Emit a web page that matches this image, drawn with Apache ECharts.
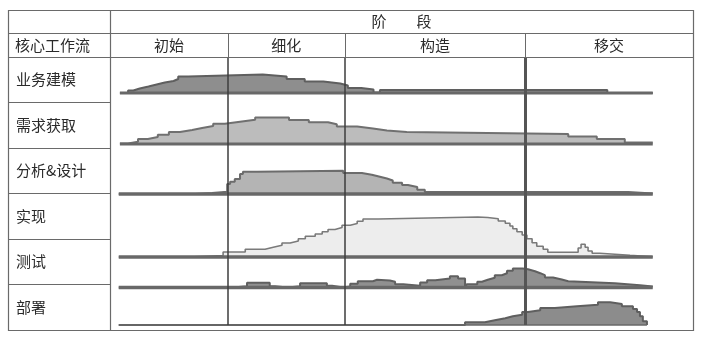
<!DOCTYPE html>
<html><head><meta charset="utf-8">
<script src="https://cdn.jsdelivr.net/npm/echarts@6/dist/echarts.min.js"></script>
<style>html,body{margin:0;padding:0;background:#fff}#c{width:701px;height:339px}</style>
</head><body><div id="c"></div>
<script>
// ---------------- data ----------------
const workflows = ['业务建模', '需求获取', '分析&设计', '实现', '测试', '部署'];
const headerTitle = '阶　　段';
const workflowHeader = '核心工作流';
const phases = ['初始', '细化', '构造', '移交'];
// phase boundaries on the project timeline (0-100 %)
const phaseBounds = [0, 20.2, 40.3, 71.2, 100];

// effort curves: [timeline %, effort level] steps (level holds until next point)
const businessModeling = [[1.7,0],[3.1,2.5],[4.0,4.5],[5.1,6.5],[6.6,8.5],[8.0,10.5],[9.4,12],[10.9,14],[11.7,16.5],[13.4,18.5],[26.2,16.5],[30.3,14],[33.4,11.5],[36.6,9.5],[39.5,7.5],[40.8,5],[43.1,3.5],[45.2,0.5],[46.3,3],[85.3,0],[93.1,0]];
const requirements = [[1.7,0.5],[3.1,2.3],[4.8,5],[6.5,7],[8.2,9.3],[10.1,12],[12.0,14],[14.1,16],[15.8,18],[17.7,20.3],[19.7,22.3],[22.3,24.3],[24.9,26.5],[30.7,24],[34.1,21.7],[37.4,19.7],[38.9,17.5],[42.4,15.5],[45.1,13.5],[47.5,12],[50.9,10],[78.6,7.5],[83.5,5],[88.3,1.5],[93.1,1.5]];
const analysisDesign = [[1.5,0],[14.6,1],[17.5,2.3],[20.1,10],[20.6,12.3],[21.4,15],[22.3,20],[22.8,22.3],[25.2,23.3],[40.0,21],[43.2,19.3],[44.9,17.3],[46.3,15.5],[47.5,13.5],[48.5,11.3],[50.1,9],[51.1,7],[52.7,4.3],[54.0,2],[88.9,0.5],[93.1,0.5]];
const implementation = [[1.5,0],[13.4,1.5],[19.4,5],[23.2,7.7],[26.6,9.7],[28.0,11.7],[29.5,14],[30.9,16],[32.3,18.3],[33.5,20.7],[35.2,23],[36.4,25.3],[37.4,27.5],[38.6,29.5],[39.8,31.7],[41.2,33.5],[42.4,35.7],[43.4,38],[46.0,40],[63.1,39.5],[64.8,38.3],[66.6,36],[67.8,33.7],[68.6,31],[69.1,28.3],[69.8,25.3],[70.7,22],[71.5,18.3],[72.4,14.3],[73.2,10.7],[74.3,7.7],[75.1,4.7],[80.3,9],[80.8,12.7],[81.5,9.7],[82.0,6],[82.7,3.7],[84.0,1.7],[89.2,0.3],[93.1,0.3]];
const testing = [[1.5,0],[21.1,1.3],[23.5,4.7],[27.4,1.3],[28.3,0],[30.5,1.3],[32.6,4.3],[37.2,1.7],[38.1,0],[40.0,1],[41.2,3.7],[42.5,6.3],[45.1,7.7],[45.8,7],[48.0,5.7],[48.9,3.3],[50.3,1.7],[53.2,5],[54.4,7.3],[55.8,9],[58.3,11.3],[59.7,9],[60.9,0],[61.2,3.3],[63.0,5.7],[63.8,7.7],[64.8,9.7],[66.0,12.3],[67.2,14.3],[68.1,16.7],[69.1,19],[70.8,18.3],[71.7,16.3],[72.9,14.3],[73.8,12.3],[74.6,10],[76.0,8],[77.5,6.3],[78.6,4.3],[86.6,2.3],[90.9,1],[93.1,1]];
const deployment = [[1.5,0],[60.9,2.7],[64.3,4.7],[66.0,6.7],[67.8,8.7],[69.1,10.3],[70.7,13],[71.7,14.7],[73.8,17],[76.3,18.7],[80.1,20.3],[83.7,22.7],[85.8,21],[87.8,18.7],[89.7,16],[90.4,13],[90.9,8.7],[91.4,3.7],[92.1,0]];
// baseline extent of each workflow on the timeline
const baselineStart = [1.7, 1.7, 1.5, 1.5, 1.5, 1.5];
const baselineEnd = [93.1, 93.1, 93.1, 93.1, 93.1, 92.1];

// ---------------- layout / style ----------------
const curves = [businessModeling, requirements, analysisDesign, implementation, testing, deployment];
const L = 110, W = 583, TOP = 10, HDR1 = 33, HDR2 = 57, BOT = 330, RIGHT = 693, LEFT = 8;
const baseY = [93, 144, 194, 257, 287.5, 325];
const ROWH = 45;
const fills = ['#8e8e8e', '#bcbcbc', '#b4b4b4', '#ededed', '#909090', '#8c8c8c'];
const outlines = ['#5f5f5f', '#707070', '#6c6c6c', '#7a7a7a', '#606060', '#5f5f5f'];
const baseW = [3, 3.2, 3.5, 3.5, 3.5, 1.6];
const FONT = '"Noto Sans CJK SC", sans-serif';
const TXT = '#2a2a2a';
const LINE = '#6a6a6a';

const grids = [], xAxes = [], yAxes = [], series = [];
function addGrid(g, ymin, ymax) {
  grids.push(g);
  const i = grids.length - 1;
  xAxes.push({ type: 'value', gridIndex: i, min: 0, max: 100, show: false });
  yAxes.push({ type: 'value', gridIndex: i, min: ymin, max: ymax, show: false });
  return i;
}

// header row 1: 阶段
let g = addGrid({ left: L, top: TOP, width: W, height: HDR1 - TOP }, 0, 1);
series.push({ type: 'line', xAxisIndex: g, yAxisIndex: g, data: [], symbol: 'none', silent: true,
  markArea: { silent: true, itemStyle: { color: 'rgba(0,0,0,0)' },
    label: { show: true, position: 'inside', color: TXT, fontSize: 15, fontFamily: FONT },
    data: [[{ xAxis: phaseBounds[0], name: headerTitle }, { xAxis: phaseBounds[phaseBounds.length - 1] }]] } });

// header row 2: phase names + thin dividers
g = addGrid({ left: L, top: HDR1, width: W, height: HDR2 - HDR1 }, 0, 1);
series.push({ type: 'line', xAxisIndex: g, yAxisIndex: g, data: [], symbol: 'none', silent: true,
  markArea: { silent: true, itemStyle: { color: 'rgba(0,0,0,0)' },
    label: { show: true, position: 'inside', color: TXT, fontSize: 15, fontFamily: FONT },
    data: phases.map((p, i) => [{ xAxis: phaseBounds[i], name: p }, { xAxis: phaseBounds[i + 1] }]) },
  markLine: { silent: true, symbol: 'none', label: { show: false },
    lineStyle: { color: LINE, width: 1, type: 'solid' },
    data: phaseBounds.slice(1, -1).map(b => ({ xAxis: b })) } });

// plot frame: phase dividers through the workflow area
g = addGrid({ left: L, top: HDR2, width: W, height: baseY[5] - HDR2 }, 0, 1);
series.push({ type: 'line', xAxisIndex: g, yAxisIndex: g, data: [], symbol: 'none', silent: true,
  markLine: { silent: true, symbol: 'none', label: { show: false },
    data: phaseBounds.slice(1, -1).map((b, i) => ({ xAxis: b,
      lineStyle: { color: i === 2 ? '#555' : '#3c3c3c', width: i === 2 ? 3 : 1.5, type: 'solid' } })) } });

// workflow rows
curves.forEach((c, r) => {
  const gi = addGrid({ left: L, top: baseY[r] - ROWH, width: W, height: ROWH }, 0, ROWH);
  series.push({ type: 'line', name: workflows[r], xAxisIndex: gi, yAxisIndex: gi, data: c,
    step: 'end', symbol: 'none', clip: false, silent: true, z: 2,
    lineStyle: { color: outlines[r], width: r === 3 ? 1.6 : 2 },
    areaStyle: { color: fills[r], opacity: 1 } });
  series.push({ type: 'line', xAxisIndex: gi, yAxisIndex: gi,
    data: [[baselineStart[r], 0], [baselineEnd[r], 0]],
    symbol: 'none', clip: false, silent: true, z: 3,
    lineStyle: { color: '#686868', width: baseW[r] } });
});

// first column: workflow names with row separators
const ci = grids.length;
grids.push({ left: LEFT, top: HDR2, width: L - LEFT, height: BOT - HDR2 });
xAxes.push({ type: 'value', gridIndex: ci, min: 0, max: 1, show: false });
yAxes.push({ type: 'category', gridIndex: ci, data: workflows, inverse: true, position: 'left',
  axisLine: { show: false }, axisTick: { show: false },
  axisLabel: { inside: true, margin: 8, fontSize: 15, color: TXT, fontFamily: FONT },
  splitLine: { show: true, interval: 0, lineStyle: { color: LINE, width: 1 } } });

const chart = echarts.init(document.getElementById('c'), null, { renderer: 'canvas' });
chart.setOption({
  animation: false,
  backgroundColor: '#fff',
  grid: grids, xAxis: xAxes, yAxis: yAxes, series: series,
  graphic: [
    { type: 'rect', silent: true, z: 10, shape: { x: LEFT + 0.5, y: TOP + 0.5, width: RIGHT - LEFT, height: BOT - TOP },
      style: { fill: null, stroke: LINE, lineWidth: 1.2 } },
    { type: 'line', silent: true, z: 10, shape: { x1: L + 0.5, y1: TOP, x2: L + 0.5, y2: BOT },
      style: { stroke: LINE, lineWidth: 1.2 } },
    { type: 'line', silent: true, z: 10, shape: { x1: LEFT, y1: HDR1 + 0.5, x2: RIGHT, y2: HDR1 + 0.5 },
      style: { stroke: LINE, lineWidth: 1.2 } },
    { type: 'line', silent: true, z: 10, shape: { x1: LEFT, y1: HDR2 + 0.5, x2: RIGHT, y2: HDR2 + 0.5 },
      style: { stroke: LINE, lineWidth: 1.2 } },
    { type: 'text', silent: true, z: 10, x: 15, y: (HDR1 + HDR2) / 2 + 0.5,
      style: { text: workflowHeader, fill: TXT, font: '15px ' + FONT, textVerticalAlign: 'middle', verticalAlign: 'middle' } }
  ]
});
</script></body></html>
